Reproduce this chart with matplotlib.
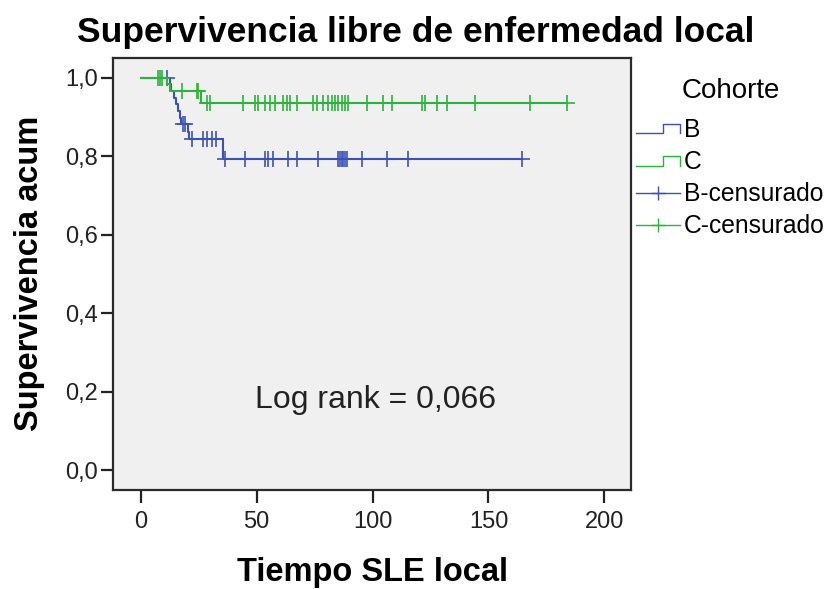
import numpy as np
import matplotlib
matplotlib.use("Agg")
import matplotlib.pyplot as plt
from matplotlib.lines import Line2D
from matplotlib.legend_handler import HandlerBase

plt.rcParams["font.family"] = ["Liberation Sans", "DejaVu Sans"]

# Kaplan-Meier steps (time of event, survival after it) and censored times
b_event_t = [12.5, 13.2, 14.5, 15.3, 16.0, 16.8, 17.5, 20.3, 21.0, 35.4]
b_event_s = [0.983, 0.966, 0.949, 0.932, 0.915, 0.898, 0.881, 0.862, 0.843, 0.792]
b_cens = [11.5, 18.3, 19.0, 22.0, 27.0, 28.5, 30.8, 32.5, 36.2, 44.9, 53.5,
          54.8, 56.9, 63.4, 67.3, 76.4, 85.0, 85.8, 86.7, 87.1, 88.0, 88.9,
          95.3, 106.1, 115.2, 164.4]

g_event_t = [11.2, 12.5, 26.0]
g_event_s = [0.983, 0.966, 0.936]
g_cens = [7.3, 8.2, 9.1, 17.7, 24.2, 24.6, 28.5, 29.8, 44.0, 49.2, 50.5,
          53.5, 55.7, 57.8, 61.3, 63.0, 64.3, 67.3, 74.2, 75.9, 78.5, 80.7,
          82.4, 83.7, 85.0, 86.7, 88.0, 89.3, 97.5, 104.4, 108.3, 121.2,
          122.5, 127.7, 132.0, 144.1, 167.8, 183.8]

groups = ["B", "C"]
colors = {"B": "#3a52b8", "C": "#2bb43c"}
xticks = [0, 50, 100, 150, 200]
yticks = [0.0, 0.2, 0.4, 0.6, 0.8, 1.0]
log_rank = "0,066"


def km_curve(ev_t, ev_s, cens):
    t = np.concatenate([[0.0], ev_t, [max(cens)]])
    s = np.concatenate([[1.0], ev_s, [ev_s[-1]]])
    # survival at each censored time
    idx = np.searchsorted(np.asarray(ev_t), np.asarray(cens), side="right")
    cs = np.concatenate([[1.0], ev_s])[idx]
    return t, s, cs


class StepHandler(HandlerBase):
    def create_artists(self, legend, orig_handle, xdescent, ydescent,
                       width, height, fontsize, trans):
        x = np.array([0.0, 0.62, 0.62, 1.0, 1.0]) * width - xdescent
        y = np.array([0.2, 0.2, 0.75, 0.75, 0.2]) * height - ydescent
        ln = Line2D(x, y, color=orig_handle.get_color(), lw=1.0,
                    transform=trans)
        return [ln]


fig = plt.figure(figsize=(8.28, 5.89), dpi=100)
ax = fig.add_axes([113 / 828, 1 - 490 / 589, 518 / 828, 432 / 589])
ax.set_facecolor("#f0f0f0")

data = {"B": (b_event_t, b_event_s, b_cens), "C": (g_event_t, g_event_s, g_cens)}
for g in groups:
    t, s, cs = km_curve(*data[g])
    ax.step(t, s, where="post", color=colors[g], lw=1.5, zorder=3)
    ax.plot(data[g][2], cs, ls="none", marker="+", ms=11, mew=1.2,
            color=colors[g], zorder=3)

ax.set_xlim(-12, 211.5)
ax.set_ylim(-0.05, 1.05)
ax.set_xticks(xticks)
ax.set_xticklabels([str(v) for v in xticks])
ax.set_yticks(yticks)
ax.set_yticklabels([f"{v:.1f}".replace(".", ",") for v in yticks])
ax.tick_params(direction="out", length=9, width=1.6, color="#222222",
               labelsize=17, pad=2, labelcolor="#222222")
ax.tick_params(axis="x", pad=6)
for sp in ax.spines.values():
    sp.set_linewidth(1.6)
    sp.set_color("#2a2a2a")

ax.text(0.506, 0.208, "Log rank = " + log_rank, transform=ax.transAxes,
        ha="center", va="center", fontsize=23, color="#222222")

fig.text(0.502, 0.944, "Supervivencia libre de enfermedad local",
         ha="center", va="center", fontsize=25.5, fontweight="bold")
fig.text(0.036, 0.536, "Supervivencia acum", rotation=90,
         ha="center", va="center", fontsize=23.5, fontweight="bold")
fig.text(373 / 828, 1 - 573 / 589, "Tiempo SLE local",
         ha="center", va="center", fontsize=23.5, fontweight="bold")

step_b = Line2D([], [], color=colors["B"])
step_c = Line2D([], [], color=colors["C"])
cens_b = Line2D([], [], color=colors["B"], marker="+", ms=10, mew=1.0, lw=1.0)
cens_c = Line2D([], [], color=colors["C"], marker="+", ms=10, mew=1.0, lw=1.0)
leg = fig.legend([step_b, step_c, cens_b, cens_c],
                 ["B", "C", "B-censurado", "C-censurado"],
                 title="Cohorte", loc="upper left",
                 bbox_to_anchor=(636 / 828, 1 - 78 / 589),
                 frameon=False, fontsize=17.7, title_fontsize=20,
                 handlelength=1.8, handletextpad=0.15, labelspacing=0.33,
                 borderpad=0, borderaxespad=0, numpoints=1,
                 handler_map={step_b: StepHandler(), step_c: StepHandler()})
leg._legend_box.sep = 10

fig.savefig("out.png", dpi=100)
